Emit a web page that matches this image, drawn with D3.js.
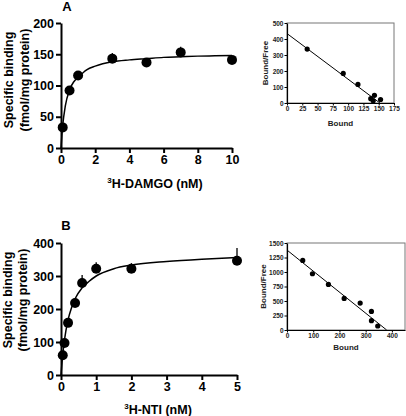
<!DOCTYPE html>
<html><head><meta charset="utf-8">
<script src="https://cdn.jsdelivr.net/npm/d3@7"></script>
<style>
body{margin:0;background:#fff;}
svg{display:block;font-family:"Liberation Sans",Arial,sans-serif;font-weight:bold;}
</style></head>
<body>
<script>
// ---- Panel A: DAMGO saturation ----
const damgoConc = [0.1, 0.5, 1, 3, 5, 7, 10];
const damgoBound = [33, 92, 116, 143, 137, 153, 141];
const damgoErrTop = [33, 92, 116, 152, 137, 162, 141];
const damgoCurveX = [0, 0.05, 0.1, 0.25, 0.5, 0.75, 1, 1.5, 2, 3, 4, 5, 6, 7, 8, 9, 10];
const damgoCurveY = [0, 20, 36, 67, 93, 106, 113, 125, 131, 138, 141, 143, 145, 146, 147, 147.5, 148];
const damgoXTicks = [0, 2, 4, 6, 8, 10];
const damgoYTicks = [0, 50, 100, 150, 200];
// Scatchard A
const scatA_bound = [33, 92, 116, 143, 137, 153, 141];
const scatA_ratio = [337, 185, 116, 48, 27, 22, 14];
const scatA_lineX = [0, 152];
const scatA_lineY = [434, 0];
const scatA_xTicks = [0, 25, 50, 75, 100, 125, 150, 175];
const scatA_yTicks = [0, 100, 200, 300, 400, 500];

// ---- Panel B: NTI saturation ----
const ntiConc = [0.05, 0.1, 0.2, 0.4, 0.6, 1, 2, 5];
const ntiBound = [60, 97, 158, 218, 279, 322, 322, 346];
const ntiErrTop = [60, 97, 158, 218, 303, 342, 339, 385];
const ntiCurveX = [0, 0.05, 0.1, 0.2, 0.3, 0.4, 0.6, 0.8, 1, 1.5, 2, 3, 4, 5];
const ntiCurveY = [0, 62, 107, 167, 204, 231, 264, 284, 300, 322, 333, 344, 351, 356];
const ntiXTicks = [0, 1, 2, 3, 4, 5];
const ntiYTicks = [0, 100, 200, 300, 400];
// Scatchard B
const scatB_bound = [60, 97, 158, 218, 279, 322, 322, 346];
const scatB_ratio = [1200, 970, 785, 545, 465, 320, 160, 69];
const scatB_lineX = [0, 380];
const scatB_lineY = [1378, 0];
const scatB_xTicks = [0, 100, 200, 300, 400];
const scatB_yTicks = [0, 250, 500, 750, 1000, 1250, 1500];

const svg = d3.select("body").append("svg").attr("width", 406).attr("height", 416);
const fmt = d3.format("d");

function mainPanel(o) {
  const x = d3.scaleLinear().domain(o.xd).range(o.xr);
  const y = d3.scaleLinear().domain(o.yd).range(o.yr);
  const g = svg.append("g");
  const xa = g.append("g").attr("transform", `translate(0,${o.yr[0]})`)
    .call(d3.axisBottom(x).tickValues(o.xt).tickFormat(fmt).tickSize(5).tickSizeOuter(0).tickPadding(2));
  const ya = g.append("g").attr("transform", `translate(${o.xr[0]},0)`)
    .call(d3.axisLeft(y).tickValues(o.yt).tickFormat(fmt).tickSize(5).tickSizeOuter(0).tickPadding(2));
  [xa, ya].forEach(a => {
    a.select(".domain").attr("stroke", "#000").attr("stroke-width", 2);
    a.selectAll(".tick line").attr("stroke", "#000").attr("stroke-width", 2);
    a.selectAll("text").attr("font-size", 12.5).attr("font-weight", "bold").attr("fill", "#000")
      .attr("font-family", '"Liberation Sans",Arial,sans-serif');
  });
  const line = d3.line().x(d => x(d[0])).y(d => y(d[1])).curve(d3.curveMonotoneX);
  g.append("path").datum(o.cx.map((v, i) => [v, o.cy[i]]))
    .attr("d", line).attr("fill", "none").attr("stroke", "#000").attr("stroke-width", 1.5);
  g.selectAll(".err").data(o.px).enter().append("line")
    .attr("x1", (d, i) => x(d)).attr("x2", (d, i) => x(d))
    .attr("y1", (d, i) => y(o.py[i])).attr("y2", (d, i) => y(o.pe[i]))
    .attr("stroke", "#000").attr("stroke-width", 1.3);
  g.selectAll(".pt").data(o.px).enter().append("circle")
    .attr("cx", d => x(d)).attr("cy", (d, i) => y(o.py[i])).attr("r", 5).attr("fill", "#000");
  // panel letter
  g.append("text").attr("x", o.letterX).attr("y", o.letterY).attr("font-size", 13)
    .attr("text-anchor", "middle").text(o.letter);
  // y title
  const yt = g.append("text").attr("transform", `translate(0,${o.ytc}) rotate(-90)`)
    .attr("text-anchor", "middle").attr("font-size", 12.5);
  yt.append("tspan").attr("x", 0).attr("y", o.ytx1).attr("dy", "0.35em").text("Specific binding");
  yt.append("tspan").attr("x", 0).attr("y", o.ytx2).attr("dy", "0.35em").text("(fmol/mg protein)");
  // x title
  const xt = g.append("text").attr("x", o.xtX).attr("y", o.xtY).attr("text-anchor", "middle").attr("font-size", 12.5);
  xt.append("tspan").attr("font-size", 8).attr("dy", "-5").text("3");
  xt.append("tspan").attr("dy", "5").text(o.xtitle);
}

function inset(o) {
  const x = d3.scaleLinear().domain(o.xd).range(o.xr);
  const y = d3.scaleLinear().domain(o.yd).range(o.yr);
  const g = svg.append("g");
  g.append("rect").attr("x", o.xr[0]).attr("y", o.yr[1]).attr("width", o.xr[1] - o.xr[0])
    .attr("height", o.yr[0] - o.yr[1]).attr("fill", "none").attr("stroke", "#777").attr("stroke-width", 1);
  const xa = g.append("g").attr("transform", `translate(0,${o.yr[0]})`)
    .call(d3.axisBottom(x).tickValues(o.xt).tickFormat(fmt).tickSize(2.5).tickSizeOuter(0).tickPadding(1));
  const ya = g.append("g").attr("transform", `translate(${o.xr[0]},0)`)
    .call(d3.axisLeft(y).tickValues(o.yt).tickFormat(fmt).tickSize(2.5).tickSizeOuter(0).tickPadding(1));
  [xa, ya].forEach(a => {
    a.select(".domain").attr("stroke", "#000").attr("stroke-width", 1.2);
    a.selectAll(".tick line").attr("stroke", "#000").attr("stroke-width", 1);
    a.selectAll("text").attr("font-size", 6.5).attr("font-weight", "bold").attr("fill", "#222")
      .attr("font-family", '"Liberation Sans",Arial,sans-serif');
  });
  g.append("line").attr("x1", x(o.lx[0])).attr("y1", y(o.ly[0]))
    .attr("x2", x(o.lx[1])).attr("y2", y(o.ly[1])).attr("stroke", "#000").attr("stroke-width", 1);
  g.selectAll(".pt").data(o.px).enter().append("circle")
    .attr("cx", d => x(d)).attr("cy", (d, i) => y(o.py[i])).attr("r", 2.6).attr("fill", "#000");
  g.append("text").attr("transform", `translate(${o.ylx},${(o.yr[0] + o.yr[1]) / 2}) rotate(-90)`)
    .attr("text-anchor", "middle").attr("dy", "0.35em").attr("font-size", 8).attr("fill", "#222").text("Bound/Free");
  g.append("text").attr("x", (o.xr[0] + o.xr[1]) / 2).attr("y", o.xly).attr("text-anchor", "middle")
    .attr("dy", "0.35em").attr("font-size", 8).attr("fill", "#222").text("Bound");
}

mainPanel({xd: [0, 10], xr: [61, 232], yd: [0, 200], yr: [148, 23], xt: damgoXTicks, yt: damgoYTicks,
  cx: damgoCurveX, cy: damgoCurveY, px: damgoConc, py: damgoBound, pe: damgoErrTop,
  letter: "A", letterX: 67, letterY: 11, ytc: 80, ytx1: 9, ytx2: 25,
  xtX: 155, xtY: 188, xtitle: "H-DAMGO (nM)"});
mainPanel({xd: [0, 5], xr: [61, 237], yd: [0, 400], yr: [375, 243], xt: ntiXTicks, yt: ntiYTicks,
  cx: ntiCurveX, cy: ntiCurveY, px: ntiConc, py: ntiBound, pe: ntiErrTop,
  letter: "B", letterX: 66, letterY: 230, ytc: 300, ytx1: 8, ytx2: 23,
  xtX: 158, xtY: 414, xtitle: "H-NTI (nM)"});
inset({xd: [0, 175], xr: [287, 394], yd: [0, 500], yr: [103, 23], xt: scatA_xTicks, yt: scatA_yTicks,
  lx: scatA_lineX, ly: scatA_lineY, px: scatA_bound, py: scatA_ratio, ylx: 265, xly: 123});
inset({xd: [0, 450], xr: [287, 405], yd: [0, 1500], yr: [330, 243], xt: scatB_xTicks, yt: scatB_yTicks,
  lx: scatB_lineX, ly: scatB_lineY, px: scatB_bound, py: scatB_ratio, ylx: 263, xly: 347});
</script>
</body></html>
